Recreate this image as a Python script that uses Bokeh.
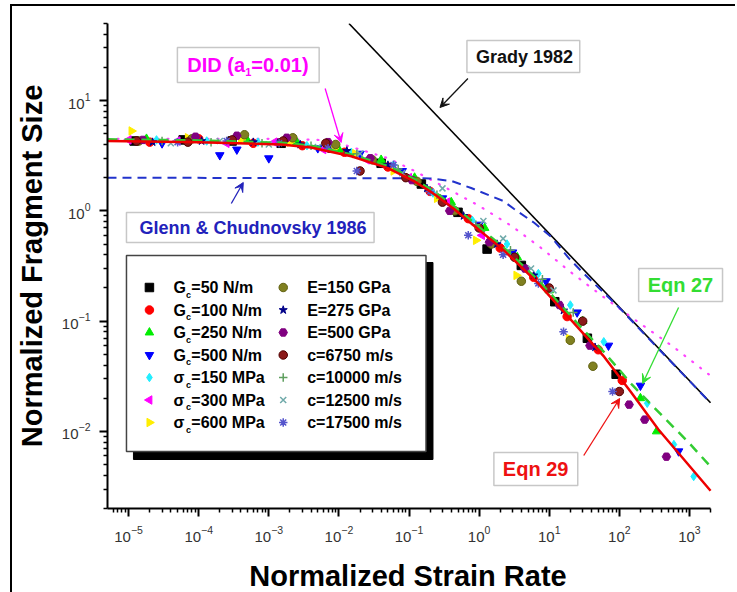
import math
from bokeh.plotting import figure
from bokeh.models import FixedTicker, Label, BoxAnnotation, Arrow, VeeHead
from bokeh.embed import file_html
from bokeh.resources import INLINE

FONT = "Liberation Sans"

# ---------------- data ----------------
grady_x = [0.0139, 2000]
grady_y = [50, 0.0182]

did_x = [5e-6, 1e-3, 5e-3, 1e-2, 2.3e-2, 5e-2, 0.12, 0.36, 1.0, 2.9, 7.7, 20, 60, 160, 600, 2000]
did_y = [4.5, 4.5, 4.4, 4.1, 3.5, 3.0, 2.3, 1.58, 1.11, 0.73, 0.46, 0.28, 0.165, 0.105, 0.058, 0.032]

glenn_x = [5e-6, 0.2, 0.41, 0.77, 2.2, 3.16, 6.1, 10.7, 18.7, 28.6, 100, 300, 1000, 2000]
glenn_y = [2.0, 1.97, 1.86, 1.61, 1.23, 1.04, 0.78, 0.58, 0.377, 0.285, 0.132, 0.0635, 0.0287, 0.0181]

eqn29_x = [5e-6, 1e-4, 1.5e-3, 4e-3, 1.5e-2, 5e-2, 0.118, 0.228, 0.44, 0.70, 2.28, 6.97, 20.6, 61, 148, 361, 2000]
eqn29_y = [4.3, 4.2, 4.0, 3.75, 3.13, 2.44, 1.86, 1.42, 1.04, 0.81, 0.436, 0.22, 0.102, 0.0474, 0.0225, 0.0104, 0.0029]

eqn27_x = [5e-6, 1e-4, 1.5e-3, 4e-3, 1.5e-2, 5e-2, 0.118, 0.228, 0.44, 0.70, 2.28, 6.97, 20.6, 61, 148, 260, 1000, 2000]
eqn27_y = [4.45, 4.35, 4.15, 3.9, 3.25, 2.55, 1.95, 1.5, 1.1, 0.86, 0.46, 0.235, 0.11, 0.052, 0.027, 0.0186, 0.0078, 0.0048]

gc50_x = [1.2e-5, 6e-5, 3e-4, 1.5e-3, 8e-3, 4e-2, 0.15, 0.5, 1.3, 4, 12, 35, 90]
gc50_y = [4.3, 4.4, 4.3, 4.1, 3.7, 2.7, 1.75, 0.97, 0.45, 0.32, 0.15, 0.07, 0.033]
gc100_x = [2e-5, 1e-4, 6e-4, 3e-3, 1.2e-2, 5e-2, 0.2, 0.7, 2, 6, 18, 50, 110]
gc100_y = [4.2, 4.5, 4.1, 3.9, 3.4, 2.5, 1.5, 0.85, 0.46, 0.25, 0.11, 0.055, 0.029]
gc250_x = [1.8e-5, 9e-5, 5e-4, 2.5e-3, 1e-2, 4e-2, 0.12, 0.4, 1.2, 3.5, 10, 30, 200, 340]
gc250_y = [4.5, 4.4, 4.3, 4.2, 3.6, 2.9, 2.0, 1.2, 0.7, 0.38, 0.19, 0.1, 0.02, 0.01]
gc500_x = [3e-5, 2e-4, 3.5e-4, 1e-3, 5e-3, 2e-2, 8e-2, 0.3, 1, 3, 9, 25, 70, 200, 700]
gc500_y = [4.1, 3.2, 3.6, 3.0, 3.7, 3.3, 2.3, 1.3, 0.75, 0.42, 0.23, 0.12, 0.06, 0.026, 0.0066]
sc150_x = [2.5e-5, 1.3e-4, 7e-4, 3.5e-3, 1.5e-2, 6e-2, 0.22, 0.8, 2.5, 7, 20, 60, 250, 600, 1150]
sc150_y = [4.4, 4.3, 4.2, 3.9, 3.4, 2.6, 1.45, 0.82, 0.5, 0.27, 0.14, 0.065, 0.018, 0.0076, 0.0039]
sc300_x = [1e-5, 5e-5, 2.5e-4, 1.2e-3, 6e-3, 2.5e-2, 0.1, 0.35, 1.1]
sc300_y = [4.4, 4.3, 4.1, 4.2, 3.6, 2.9, 2.0, 1.2, 0.6]
sc600_x = [1.1e-5, 7e-5, 4e-4, 2e-3, 8.5e-3, 1.7e-2, 0.06, 0.25, 0.9, 3.4, 19]
sc600_y = [5.3, 4.6, 4.4, 4.2, 3.7, 3.3, 2.3, 1.3, 0.54, 0.26, 0.07]
e150_x = [1.4e-5, 8e-5, 4.5e-4, 2.2e-3, 9e-3, 3e-2, 0.13, 0.45, 1.5, 4, 20, 42]
e150_y = [4.3, 4.5, 4.9, 4.6, 4.0, 2.9, 1.85, 1.0, 0.5, 0.23, 0.067, 0.039]
e275_x = [2.2e-5, 1.1e-4, 6e-4, 2.8e-3, 1.3e-2, 5e-2, 0.18, 0.6, 1.8, 6, 16, 45]
e275_y = [4.2, 4.3, 4.2, 4.0, 3.5, 2.6, 1.6, 0.9, 0.5, 0.26, 0.125, 0.058]
e500_x = [1.6e-5, 9e-5, 3.5e-4, 1.8e-3, 7e-3, 2.8e-2, 0.11, 0.38, 1.4, 4.5, 14, 38, 138, 230, 470]
e500_y = [4.4, 4.7, 4.8, 4.6, 4.2, 3.0, 1.9, 1.0, 0.52, 0.3, 0.14, 0.06, 0.0175, 0.0128, 0.0059]
c6750_x = [1.3e-5, 7e-5, 3e-4, 1.6e-3, 6.5e-3, 2e-2, 9e-2, 0.3, 1, 3.2, 10, 30, 100]
c6750_y = [4.3, 4.2, 4.4, 4.3, 4.1, 2.3, 2.0, 1.2, 0.7, 0.38, 0.2, 0.1, 0.023]
c10000_x = [3e-5, 1.5e-4, 8e-4, 4e-3, 1.8e-2, 7e-2, 0.25, 0.9, 2.8, 8, 22]
c10000_y = [4.3, 4.2, 4.1, 3.9, 3.3, 2.4, 1.4, 0.75, 0.44, 0.24, 0.12]
c12500_x = [4e-5, 2e-4, 1e-3, 5e-3, 2e-2, 8e-2, 0.3, 1.15, 2.2, 5.5, 11.5]
c12500_y = [4.1, 4.3, 4.0, 3.8, 3.3, 2.2, 1.6, 0.81, 0.56, 0.3, 0.19]
c17500_x = [5e-5, 2.5e-4, 1.4e-3, 7e-3, 1.8e-2, 6e-2, 0.2, 0.7, 2.2, 7, 16, 80]
c17500_y = [4.2, 4.3, 4.1, 3.7, 2.3, 2.6, 1.5, 0.6, 0.4, 0.22, 0.08, 0.023]

col1_sym = ["G", "G", "G", "G", "σ", "σ", "σ"]
col1_text = ["=50 N/m", "=100 N/m", "=250 N/m", "=500 N/m", "=150 MPa", "=300 MPa", "=600 MPa"]
col2_text = ["E=150 GPa", "E=275 GPa", "E=500 GPa", "c=6750 m/s", "c=10000 m/s", "c=12500 m/s", "c=17500 m/s"]

xticks = [1e-5, 1e-4, 1e-3, 1e-2, 1e-1, 1, 10, 100, 1000]
yticks = [0.01, 0.1, 1, 10]

# ---------------- styles ----------------
series = [
    (gc50_x, gc50_y, "square", "#000000", "#000000", 0),
    (gc100_x, gc100_y, "circle", "#ff0000", "#ff0000", 0),
    (gc250_x, gc250_y, "triangle", "#00ee00", "#00ee00", 0),
    (gc500_x, gc500_y, "inverted_triangle", "#0000ff", "#0000ff", 0),
    (sc150_x, sc150_y, "diamond", "#22eeff", "#22eeff", 0),
    (sc300_x, sc300_y, "triangle", "#ff00ff", "#ff00ff", math.pi / 2),
    (sc600_x, sc600_y, "triangle", "#ffee00", "#ffee00", -math.pi / 2),
    (e150_x, e150_y, "circle", "#808020", "#606010", 0),
    (e275_x, e275_y, "star", "#000088", "#000088", 0),
    (e500_x, e500_y, "hex", "#800080", "#800080", 0),
    (c6750_x, c6750_y, "circle", "#8b1a1a", "#500000", 0),
    (c10000_x, c10000_y, "cross", "#5f9f5f", "#5f9f5f", 0),
    (c12500_x, c12500_y, "x", "#70aaaa", "#70aaaa", 0),
    (c17500_x, c17500_y, "asterisk", "#5555cc", "#5555cc", 0),
]

# page geometry (reference pixels)
OX, OY = 12, 6            # canvas origin after the outer frame (margin + border)
X0, X1 = 5e-6, 2e3
Y0, Y1 = 0.002, 50
FL, FR, FT, FB = 106, 710, 23, 508
PAGE_W, PAGE_H = 737, 600


def X(px):
    return 10 ** (math.log10(X0) + (px - FL) / (FR - FL) * math.log10(X1 / X0))


def Y(py):
    return 10 ** (math.log10(Y1) - (py - FT) / (FB - FT) * math.log10(Y1 / Y0))


W = PAGE_W - OX
H = PAGE_H - OY
p = figure(width=W, height=H, x_axis_type="log", y_axis_type="log",
           x_range=(X0, X(PAGE_W)), y_range=(Y0, Y1),
           output_backend="svg", toolbar_location=None,
           min_border_left=FL - OX, min_border_right=0,
           min_border_top=FT - OY, min_border_bottom=PAGE_H - FB)
p.styles = {"margin-left": "10px", "margin-top": "4px",
            "border-left": "2px solid black", "border-top": "2px solid black"}
p.outline_line_color = None
p.xgrid.visible = False
p.ygrid.visible = False
p.background_fill_color = "white"
p.border_fill_color = "white"

minor_x = [m * 10 ** e for e in range(-6, 4) for m in range(2, 10) if X0 <= m * 10 ** e <= X1]
minor_y = [m * 10 ** e for e in range(-3, 2) for m in range(2, 10) if Y0 <= m * 10 ** e <= Y1]
p.xaxis.ticker = FixedTicker(ticks=xticks, minor_ticks=minor_x)
p.yaxis.ticker = FixedTicker(ticks=yticks, minor_ticks=minor_y)
p.xaxis.bounds = (X0, X1)

for ax in (p.xaxis[0], p.yaxis[0]):
    ax.axis_line_width = 2
    ax.axis_line_color = "black"
    ax.major_tick_line_width = 2
    ax.minor_tick_line_width = 1.5
    ax.major_tick_in = 0
    ax.minor_tick_in = 0
    ax.major_tick_out = 8
    ax.minor_tick_out = 4
    ax.major_label_text_font = FONT
    ax.major_label_text_font_size = "15px"
    ax.major_label_text_color = "#333333"
    ax.axis_label_text_font = FONT
    ax.axis_label_text_font_style = "bold"
    ax.axis_label_text_color = "black"
    ax.major_label_standoff = 9

# the frame reaches the page edge, so the title is padded to sit centred on the drawn axis
p.xaxis.axis_label = "Normalized Strain Rate\u2003"
p.xaxis.axis_label_text_font_size = "29px"
p.xaxis.axis_label_standoff = 15
p.yaxis.axis_label = "Normalized Fragment Size"
p.yaxis.axis_label_text_font_size = "29px"
p.yaxis.axis_label_standoff = 11

# ---------------- model curves ----------------
p.line(grady_x, grady_y, line_color="black", line_width=1.6)
p.line(did_x, did_y, line_color="#ff44ff", line_width=2.2, line_dash="1 9", line_cap="round")
p.line(glenn_x, glenn_y, line_color="#2233cc", line_width=2, line_dash="9 6")

# ---------------- data ----------------
for xs, ys, mk, fc, lc, ang in series:
    p.scatter(xs, ys, marker=mk, size=8.5, fill_color=fc, line_color=lc, angle=ang,
              line_width=1.5 if mk in ("cross", "x", "asterisk") else 1)

p.line(eqn27_x, eqn27_y, line_color="#33cc33", line_width=2.5, line_dash="10 7")
p.line(eqn29_x, eqn29_y, line_color="#ee0000", line_width=2.5)

# ---------------- legend box ----------------
p.quad(left=[X(132)], right=[X(432)], top=[Y(262)], bottom=[Y(459)], fill_color="black", line_color="black")
p.quad(left=[X(125)], right=[X(425)], top=[Y(255)], bottom=[Y(451)], fill_color="white",
       line_color="#444444", line_width=1.5)

rows = [287, 309.5, 332, 354.5, 377, 399.5, 422]
for i in range(7):
    xs, ys, mk, fc, lc, ang = series[i]
    p.scatter([X(148)], [Y(rows[i])], marker=mk, size=8.5, fill_color=fc, line_color=lc, angle=ang)
    xs, ys, mk, fc, lc, ang = series[7 + i]
    p.scatter([X(282)], [Y(rows[i])], marker=mk, size=8.5, fill_color=fc, line_color=lc, angle=ang,
              line_width=1.5 if mk in ("cross", "x", "asterisk") else 1)


def lab(px, py, text, size, color="black", bold=True, align="left"):
    p.add_layout(Label(x=X(px), y=Y(py), text=text, text_font=FONT,
                       text_font_size=f"{size}px", text_color=color,
                       text_font_style="bold" if bold else "normal",
                       text_align=align, text_baseline="middle"))


for i in range(7):
    lab(172, rows[i], col1_sym[i], 16)
    lab(184.5, rows[i] + 7, "c", 9)
    lab(190, rows[i], col1_text[i], 16)
    lab(306, rows[i], col2_text[i], 16)


# ---------------- annotation boxes ----------------
def box(l, t, r, b):
    p.add_layout(BoxAnnotation(left=X(l), right=X(r), top=Y(t), bottom=Y(b),
                               fill_color="white", fill_alpha=1,
                               line_color="#444444", line_width=1.5))


def arrow(x0, y0, x1, y1, color):
    p.add_layout(Arrow(end=VeeHead(size=9, fill_color=color, line_color=color, line_width=1),
                       x_start=X(x0), y_start=Y(y0), x_end=X(x1), y_end=Y(y1),
                       line_color=color, line_width=1.3))


box(176, 47, 318, 82)
lab(186, 64, "DID (a", 20, "#ff00ff")
lab(244, 71, "1", 11, "#ff00ff")
lab(250, 64, "=0.01)", 20, "#ff00ff")
arrow(324, 88, 340, 142, "#ff00ff")

box(466, 40, 579, 72)
lab(475, 56, "Grady 1982", 18, "#111111")
arrow(467, 78, 439, 107, "#111111")

box(125, 212, 373, 242)
lab(138, 227, "Glenn & Chudnovsky 1986", 18, "#2222bb")
arrow(230, 203, 242, 182, "#2222bb")

box(638, 268, 722, 301)
lab(647, 284.5, "Eqn 27", 20, "#33dd33")
arrow(678, 307, 642, 383, "#33dd33")

box(493, 452, 577, 485)
lab(502, 468.5, "Eqn 29", 20, "#ee1111")
arrow(583, 455, 619, 398, "#ee1111")

open("out.html", "w").write(file_html(p, INLINE))
